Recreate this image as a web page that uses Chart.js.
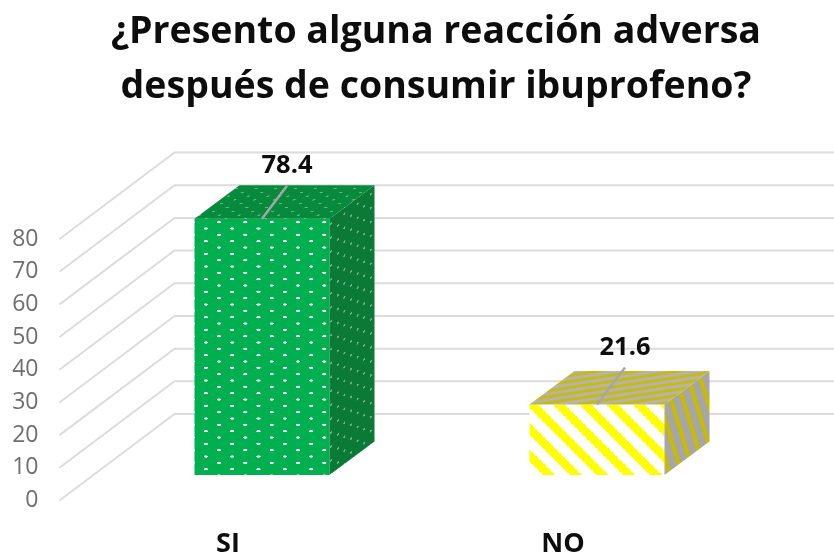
<!DOCTYPE html>
<html><head><meta charset="utf-8">
<style>html,body{margin:0;padding:0;background:#fff}canvas{display:block}</style>
<script src="https://cdn.jsdelivr.net/npm/chart.js@4"></script>
</head><body><canvas id="c" width="834" height="553"></canvas>
<script>
const categories = ['SI', 'NO'];
const values = [78.4, 21.6];
const valueLabels = ['78.4', '21.6'];
const titleLines = ['¿Presento alguna reacción adversa', 'después de consumir ibuprofeno?'];

// 3D geometry (pixels)
const WALL = {dx: 115, dy: -86.5};      // axis plane -> back wall
const FRONT = {dx: 34, dy: -25.5};      // axis plane -> bar front plane
const DEPTH = {dx: 45, dy: -33.5};      // bar depth
const LEADER = [{dx: 25, dy: -33}, {dx: 28, dy: -37}];

function tile(w, h, paint) {
  const t = document.createElement('canvas'); t.width = w; t.height = h;
  paint(t.getContext('2d')); return t;
}
function dots(bg, dot) {
  return tile(79, 38, g => {
    g.fillStyle = bg; g.fillRect(0, 0, 79, 38);
    g.fillStyle = dot;
    [[6, 6], [45.5, 25]].forEach(([x, y]) => { g.beginPath(); g.ellipse(x, y, 6.5, 3.2, 0, 0, 7); g.fill(); });
  });
}
function blockStripes(bg, fg, step, from, to) {
  return tile(80, 80, g => {
    g.fillStyle = bg; g.fillRect(0, 0, 80, 80);
    g.fillStyle = fg;
    for (let y = 0; y < 80; y += step) for (let x = 0; x < 80; x += step) {
      const m = (x - y + 160) % 80;
      if (m >= from && m < to) g.fillRect(x, y, step, step);
    }
  });
}
// smooth one-to-one stripe tile: period w across, h down; rising to the right when up is true
function smoothStripes(w, h, bg, fg, frac, up) {
  return tile(w, h, g => {
    g.fillStyle = bg; g.fillRect(0, 0, w, h);
    g.fillStyle = fg;
    const fw = frac * w;
    for (let k = -2; k <= 2; k++) {
      const x0 = k * w, a = up ? w : 0, b = up ? 0 : w;
      g.beginPath();
      g.moveTo(x0 + a, 0); g.lineTo(x0 + a + fw, 0);
      g.lineTo(x0 + b + fw, h); g.lineTo(x0 + b, h);
      g.closePath(); g.fill();
    }
  });
}
const ctx0 = document.getElementById('c').getContext('2d');
function pat(t, a, b, c, d, e, f) {
  const p = ctx0.createPattern(t, 'repeat');
  p.setTransform(new DOMMatrix([a / 3, b / 3, c / 3, d / 3, e || 0, f || 0]));
  return p;
}
const frontFill = [
  pat(dots('#00b050', '#ffffff'), 1, 0, 0, 1, 183, 5),
  pat(blockStripes('#ffffff', '#ffff00', 4, 28, 64), 1, 0, 0, 1, 0, 0)
];
const sideFill = [
  pat(dots('#0a7a36', 'rgba(190,230,200,.55)'), 0.5, -0.37, 0, 1.1, 0, 0),
  ctx0.createPattern(smoothStripes(12, 39, '#a6a6a6', '#c9bb00', 0.36, false), 'repeat')
];
const topFill = [
  pat(dots('#078a3c', 'rgba(170,225,185,.55)'), 0.75, 0, -0.6, 0.6, 0, 0),
  ctx0.createPattern(smoothStripes(40, 6, '#b4b4b4', '#c9bb00', 0.45, true), 'repeat')
];

const depthPlugin = {
  id: 'depth',
  afterLayout(chart) {            // centre the title as in the reference
    chart.titleBlock.left = 38; chart.titleBlock.right = 834;
  },
  beforeDatasetsDraw(chart) {
    const {ctx, scales: {y}, chartArea: a} = chart;
    ctx.save();
    ctx.strokeStyle = '#dcdcdc'; ctx.lineWidth = 2;
    y.ticks.forEach(t => {
      const py = y.getPixelForValue(t.value);
      ctx.beginPath();
      ctx.moveTo(a.left - 1, py);
      ctx.lineTo(a.left - 1 + WALL.dx, py + WALL.dy);
      ctx.lineTo(chart.width, py + WALL.dy);
      ctx.stroke();
    });
    ctx.restore();
  },
  beforeDatasetDraw(chart) {
    chart.ctx.save();
    chart.ctx.translate(FRONT.dx, FRONT.dy);
  },
  afterDatasetDraw(chart, args) {
    const ctx = chart.ctx;
    args.meta.data.forEach((bar, i) => {
      const {x, y, base, width} = bar.getProps(['x', 'y', 'base', 'width'], true);
      const l = x - width / 2, r = x + width / 2;
      const poly = (pts, fill) => {
        ctx.beginPath();
        pts.forEach((p, k) => k ? ctx.lineTo(p[0], p[1]) : ctx.moveTo(p[0], p[1]));
        ctx.closePath(); ctx.fillStyle = fill; ctx.fill();
      };
      poly([[r, y], [r + DEPTH.dx, y + DEPTH.dy], [r + DEPTH.dx, base + DEPTH.dy], [r, base]], sideFill[i]);
      poly([[l, y], [l + DEPTH.dx, y + DEPTH.dy], [r + DEPTH.dx, y + DEPTH.dy], [r, y]], topFill[i]);
      ctx.beginPath();
      ctx.moveTo(x, y);
      ctx.lineTo(x + LEADER[i].dx, y + LEADER[i].dy);
      ctx.strokeStyle = '#a6a6a6'; ctx.lineWidth = 2.5; ctx.stroke();
      ctx.fillStyle = '#0d0d0d';
      ctx.font = 'bold 25.5px "Open Sans"';
      ctx.textAlign = 'center'; ctx.textBaseline = 'middle';
      ctx.fillText(valueLabels[i], x + LEADER[i].dx, y + LEADER[i].dy - 20);
    });
    ctx.restore();
  }
};

new Chart(ctx0, {
  type: 'bar',
  data: {
    labels: categories,
    datasets: [{
      data: values,
      backgroundColor: frontFill,
      borderWidth: 0,
      categoryPercentage: 1,
      barPercentage: 0.403,
      clip: false
    }]
  },
  plugins: [depthPlugin],
  options: {
    responsive: false,
    animation: false,
    layout: {padding: {left: 0, right: 103.5, top: 0, bottom: 0}},
    plugins: {
      legend: {display: false},
      tooltip: {enabled: false},
      title: {
        display: true,
        text: titleLines,
        color: '#0d0d0d',
        font: {family: '"Open Sans"', weight: 'bold', size: 37.5, lineHeight: 55 / 37.5},
        padding: {top: 4.5, bottom: 124.5}
      }
    },
    scales: {
      x: {
        afterFit(s) { s.height = 52.5; },
        grid: {display: false},
        border: {display: false},
        ticks: {color: '#0d0d0d', padding: 20, maxRotation: 0, font: {family: '"Open Sans"', weight: 'bold', size: 27}}
      },
      y: {
        min: 0, max: 80,
        afterFit(s) { s.width = 60.5; },
        grid: {display: false, drawTicks: false},
        border: {display: false},
        ticks: {stepSize: 10, color: '#6e6e6e', padding: 22, font: {family: '"Open Sans"', size: 23}}
      }
    }
  }
});
</script></body></html>
